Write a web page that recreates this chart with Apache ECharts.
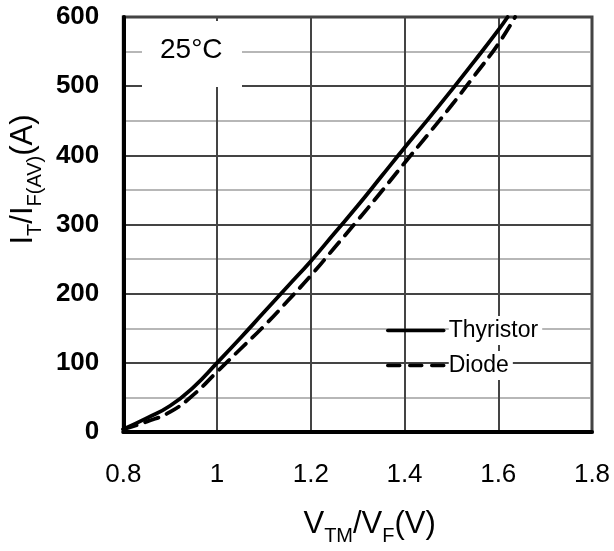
<!DOCTYPE html>
<html>
<head>
<meta charset="utf-8">
<script src="https://cdn.jsdelivr.net/npm/echarts@6/dist/echarts.min.js"></script>
<style>
html,body{margin:0;padding:0;background:#fff;}
#c{width:614px;height:551px;}
</style>
</head>
<body>
<div id="c"></div>
<script>
// Data
var thyristorV = [0.80, 0.85, 0.90, 0.95, 1.00, 1.05, 1.10, 1.15, 1.20, 1.25, 1.30, 1.35, 1.40, 1.45, 1.50, 1.55, 1.60, 1.62];
var thyristorI = [4, 20, 38, 65, 100, 136, 173, 210, 247, 287, 327, 369, 411, 452, 494, 537, 581, 600];
var diodeV = [0.80, 0.85, 0.90, 0.95, 1.00, 1.05, 1.10, 1.15, 1.20, 1.25, 1.30, 1.35, 1.40, 1.45, 1.50, 1.55, 1.60, 1.636];
var diodeI = [4, 15, 29, 54, 87, 120, 153, 189, 226, 266, 306, 347, 389, 430, 472, 516, 561, 600];
var xTicks = [0.8, 1.0, 1.2, 1.4, 1.6, 1.8];
var yTicks = [0, 100, 200, 300, 400, 500, 600];

function pairs(xs, ys){ return xs.map(function(x,i){ return [x, ys[i]]; }); }

var FONT = 'Liberation Sans, Arial, sans-serif';
var chart = echarts.init(document.getElementById('c'));
chart.setOption({
  animation: false,
  backgroundColor: '#fff',
  grid: {left: 121, right: 22, top: 17, bottom: 118, show: true, borderColor: '#404040', borderWidth: 3},
  xAxis: {
    type: 'value', min: xTicks[0], max: xTicks[xTicks.length-1], interval: 0.2,
    axisLine: {lineStyle: {color: '#000', width: 4}},
    axisTick: {show: false},
    axisLabel: {color: '#000', fontFamily: FONT, fontSize: 26, margin: 30,
      formatter: function(v){ return String(Math.round(v*10)/10); }},
    splitLine: {show: true, lineStyle: {color: '#444', width: 2}},
    name: '{a|V}{s|TM}{a|/V}{s|F}{a|(V)}', nameLocation: 'middle', nameGap: 74,
    nameTextStyle: {padding: [0, 0, 0, 24], rich: {
      a: {fontFamily: FONT, fontSize: 31, color: '#000', verticalAlign: 'bottom', lineHeight: 34},
      s: {fontFamily: FONT, fontSize: 20, color: '#000', verticalAlign: 'bottom', lineHeight: 24, padding: [0,0,-6,0]}
    }}
  },
  yAxis: {
    type: 'value', min: yTicks[0], max: yTicks[yTicks.length-1], interval: 100,
    axisLine: {lineStyle: {color: '#000', width: 4}},
    axisTick: {show: false},
    axisLabel: {color: '#000', fontFamily: FONT, fontSize: 26, fontWeight: 'bold', margin: 24},
    splitLine: {show: true, lineStyle: {color: '#444', width: 2}},
    minorTick: {show: false, splitNumber: 2},
    minorSplitLine: {show: true, lineStyle: {color: '#a0a0a0', width: 1.5}},
    name: '{a|I}{s|T}{a|/I}{s|F(AV)}{a|(A)}', nameLocation: 'middle', nameGap: 78,
    nameTextStyle: {padding: [0, 0, 0, 90], rich: {
      a: {fontFamily: FONT, fontSize: 31, color: '#000', verticalAlign: 'bottom', lineHeight: 34},
      s: {fontFamily: FONT, fontSize: 20, color: '#000', verticalAlign: 'bottom', lineHeight: 24, padding: [0,0,-6,0]}
    }}
  },
  legend: {
    left: 381, top: 311, orient: 'vertical', itemWidth: 56, itemHeight: 14, itemGap: 6,
    itemStyle: {opacity: 0},
    textStyle: {fontFamily: FONT, fontSize: 23, color: '#000', backgroundColor: '#fff', padding: [3, 4, 3, 0]},
    data: [
      {name: 'Thyristor', lineStyle: {width: 3.5, type: 'solid', color: '#000'}},
      {name: 'Diode', lineStyle: {width: 3.5, type: [12, 10], color: '#000'}}
    ]
  },
  graphic: [
    {type: 'rect', left: 142, top: 21, shape: {width: 100, height: 66}, style: {fill: '#fff'}, z: 1},
    {type: 'text', left: 160, top: 36, style: {text: '25°C', font: '28px Liberation Sans, Arial, sans-serif', fill: '#000'}, z: 2}
  ],
  series: [
    {name: 'Thyristor', type: 'line', data: pairs(thyristorV, thyristorI), smooth: 0.5, symbol: 'none',
      lineStyle: {color: '#000', width: 3.8, cap: 'round'}, itemStyle: {color: '#000'}},
    {name: 'Diode', type: 'line', data: pairs(diodeV, diodeI), smooth: 0.5, symbol: 'none',
      lineStyle: {color: '#000', width: 3.8, type: [14, 9], cap: 'round'}, itemStyle: {color: '#000'}}
  ]
});
</script>
</body>
</html>
